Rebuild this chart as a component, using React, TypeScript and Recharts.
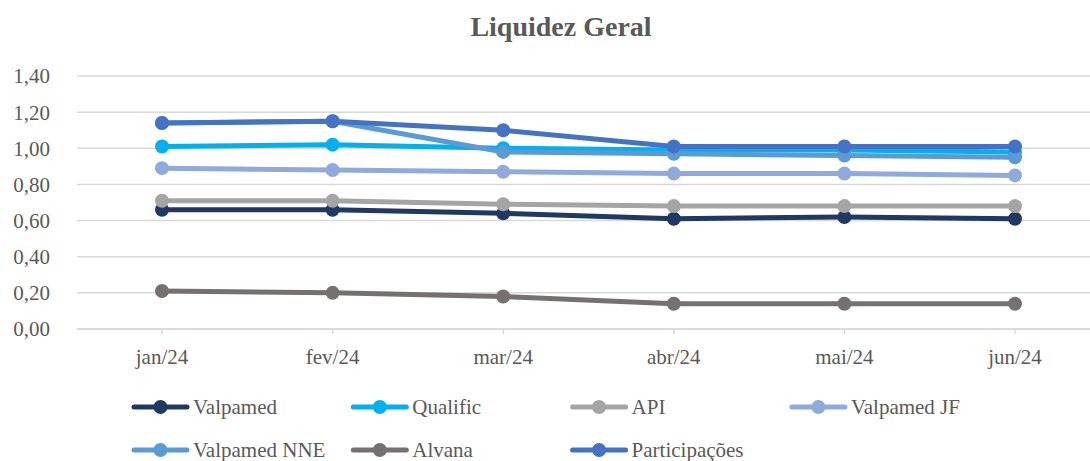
import React from 'react'
import { LineChart, Line, XAxis, YAxis, CartesianGrid } from 'recharts'

const months = ['jan/24', 'fev/24', 'mar/24', 'abr/24', 'mai/24', 'jun/24']

const valpamed = [0.66, 0.66, 0.64, 0.61, 0.62, 0.61]
const qualific = [1.01, 1.02, 1.0, 0.99, 0.99, 0.98]
const api = [0.71, 0.71, 0.69, 0.68, 0.68, 0.68]
const valpamedJF = [0.89, 0.88, 0.87, 0.86, 0.86, 0.85]
const valpamedNNE = [1.14, 1.15, 0.98, 0.97, 0.96, 0.95]
const alvana = [0.21, 0.2, 0.18, 0.14, 0.14, 0.14]
const participacoes = [1.14, 1.15, 1.1, 1.01, 1.01, 1.01]

const yTicks = [0, 0.2, 0.4, 0.6, 0.8, 1.0, 1.2, 1.4]

const series = [
    { key: 'Valpamed', values: valpamed, color: '#203864' },
    { key: 'Qualific', values: qualific, color: '#00B0F0' },
    { key: 'API', values: api, color: '#A5A5A5' },
    { key: 'Valpamed JF', values: valpamedJF, color: '#8FAADC' },
    { key: 'Valpamed NNE', values: valpamedNNE, color: '#5B9BD5' },
    { key: 'Alvana', values: alvana, color: '#767171' },
    { key: 'Participações', values: participacoes, color: '#4472C4' },
]

const data = months.map((m, i) => {
    const row: Record<string, string | number> = { month: m }
    series.forEach((s) => { row[s.key] = s.values[i] })
    return row
})

const FONT = 'Liberation Serif'
const TEXT = '#595959'

export default function App() {
    return (
        <div style={{ position: 'fixed', top: 0, left: 0, width: 1090, height: 461, overflow: 'hidden', background: '#fff' }}>
            <LineChart width={1122} height={461} data={data} margin={{ top: 76, right: 22, bottom: 102, left: 0 }}>
                <CartesianGrid vertical={false} stroke="#D9D9D9" strokeWidth={1.5} />
                <XAxis
                    dataKey="month"
                    height={30}
                    padding={{ left: 85, right: 85 }}
                    stroke="#D9D9D9"
                    strokeWidth={1.5}
                    tickSize={5}
                    tickMargin={15}
                    tick={{ fill: TEXT, fontSize: 21, fontFamily: FONT }}
                    interval={0}
                />
                <YAxis
                    width={77}
                    domain={[0, 1.4]}
                    ticks={yTicks}
                    axisLine={false}
                    tickLine={false}
                    tickSize={0}
                    tickMargin={27}
                    tick={{ fill: TEXT, fontSize: 21, fontFamily: FONT }}
                    tickFormatter={(v: number) => v.toFixed(2).replace('.', ',')}
                />
                {series.map((s) => (
                    <Line
                        key={s.key}
                        dataKey={s.key}
                        stroke={s.color}
                        strokeWidth={5}
                        dot={{ r: 7, fill: s.color, stroke: 'none' }}
                        activeDot={false}
                        isAnimationActive={false}
                    />
                ))}
            </LineChart>

            {/* title + legend overlay */}
            <svg width={1090} height={461} style={{ position: 'absolute', top: 0, left: 0, pointerEvents: 'none' }}>
                <text x={561} y={36} textAnchor="middle" fontFamily={FONT} fontSize={28} fontWeight="bold" fill={TEXT}>
                    Liquidez Geral
                </text>
                {series.map((s, i) => {
                    const x0 = 132 + (i % 4) * 219.3
                    const y0 = 407 + Math.floor(i / 4) * 43
                    return (
                        <g key={s.key}>
                            <line x1={x0 + 2} y1={y0} x2={x0 + 55} y2={y0} stroke={s.color} strokeWidth={5} strokeLinecap="round" />
                            <circle cx={x0 + 28.5} cy={y0} r={7} fill={s.color} />
                            <text x={x0 + 61} y={y0 + 7} fontFamily={FONT} fontSize={21} fill={TEXT}>{s.key}</text>
                        </g>
                    )
                })}
            </svg>
        </div>
    )
}
